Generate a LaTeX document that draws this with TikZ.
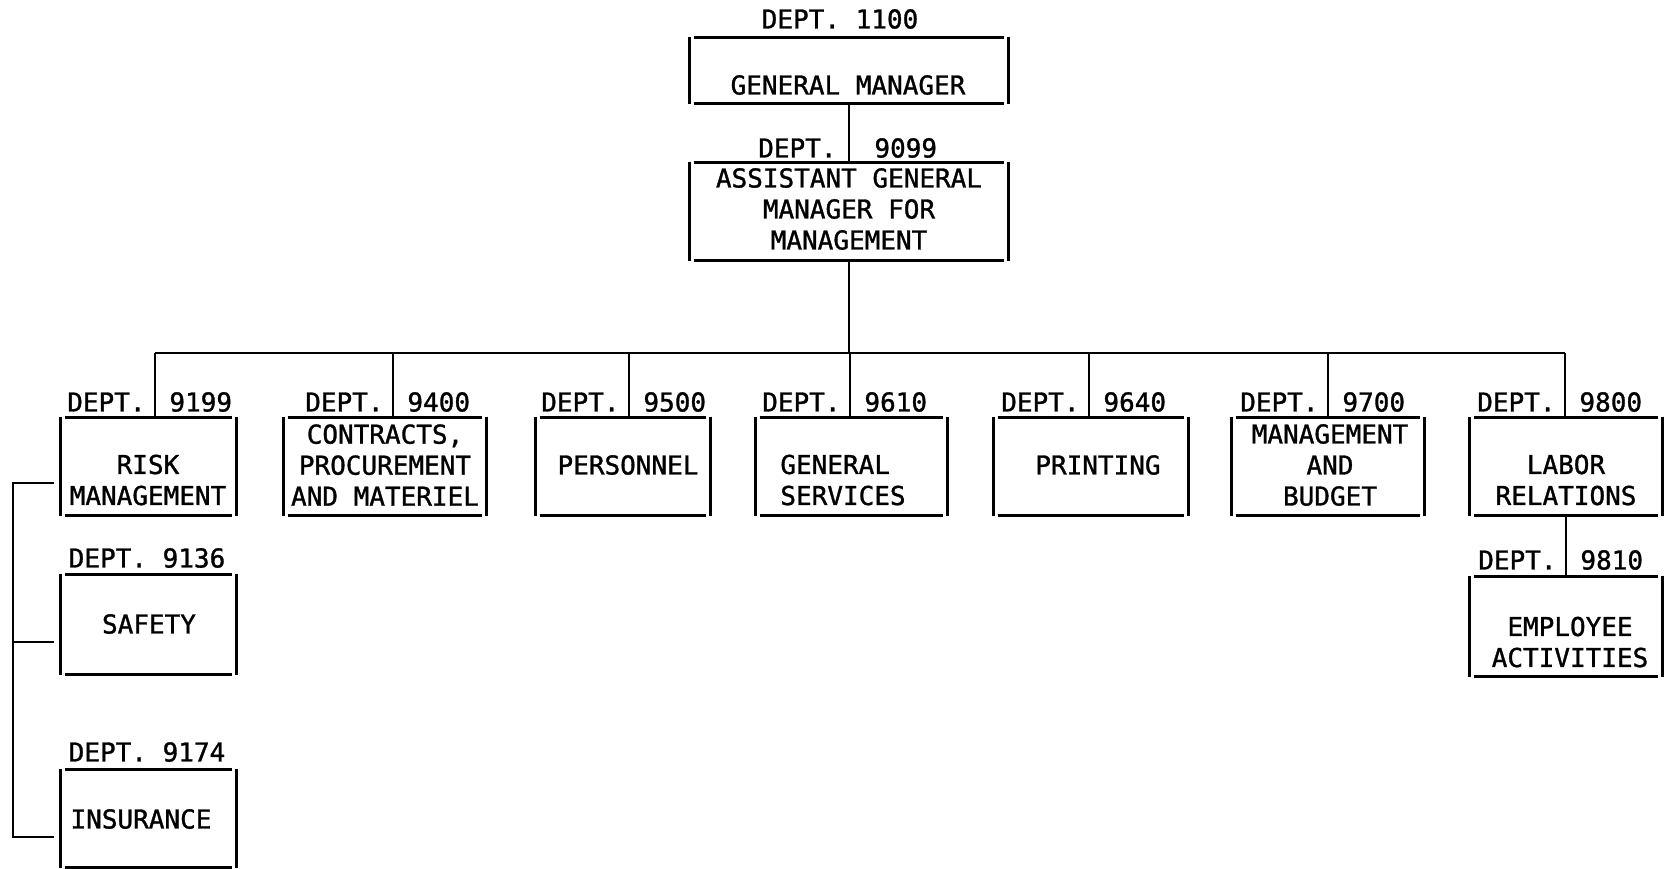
\documentclass[tikz,border=0pt]{standalone}
\usepackage{fontspec}
\newfontfamily\tw[FakeBold=1.2]{DejaVu Sans Mono}
\newcommand\tybox[1]{%
  \draw ([xshift=4pt]#1.north west) -- ([xshift=-4pt]#1.north east)
        ([xshift=4pt]#1.south west) -- ([xshift=-4pt]#1.south east);
  \draw ([yshift=1pt]#1.north west) -- ([yshift=-1pt]#1.south west)
        ([yshift=1pt]#1.north east) -- ([yshift=-1pt]#1.south east);}
\newcommand\rowdept[5]{%
  \node[boxn, minimum width=#4pt, minimum height=95pt] (#1) at (#3,466.5) {};
  \tybox{#1}
  \coordinate (#1top) at (#2,353);
  \draw (#1top) -- (#1top |- #1.north);
  \node[lbl, anchor=east] (#1d) at (#2-8,402) {DEPT.};
  \node[lbl, anchor=west] (#1n) at (#2+13,402) {#5};}
\begin{document}
\begin{tikzpicture}[x=1pt,y=-1pt, line width=2.9pt, line cap=square,
  boxn/.style={rectangle, inner sep=0pt, draw=none},
  txt/.style={inner sep=0pt, align=center, font=\tw\fontsize{26}{31}\selectfont},
  lbl/.style={inner sep=0pt, font=\tw\fontsize{26}{31}\selectfont}]
\useasboundingbox (0,0) rectangle (1664,868);
% top
\node[lbl] (d1100) at (840,19) {DEPT. 1100};
\node[boxn, minimum width=316pt, minimum height=63pt] (gm) at (849,70.5) {};
\tybox{gm}
\node[txt] (gmt) at (848,85) {GENERAL MANAGER};
\node[lbl, anchor=east] (d9099a) at (838,148) {DEPT.};
\node[lbl, anchor=west] (d9099b) at (873,148) {9099};
\node[boxn, minimum width=316pt, minimum height=95pt] (agm) at (849,211.5) {};
\tybox{agm}
\node[txt] (agmt) at (849,209) {ASSISTANT GENERAL\\MANAGER FOR\\MANAGEMENT};
\draw (gm.south) -- (agm.north);
% bus
\coordinate (busc) at (849,353);
\coordinate (busl) at (155,353);
\coordinate (busr) at (1565,353);
\draw (agm.south) -- (busc);
\draw (busl) -- (busr);
% row
\rowdept{risk}{155}{148.5}{173}{9199}
\rowdept{contr}{393}{385}{200}{9400}
\rowdept{pers}{629}{623}{172}{9500}
\rowdept{gs}{850}{851.5}{189}{9610}
\rowdept{print}{1089}{1091}{192}{9640}
\rowdept{mb}{1328}{1328}{190}{9700}
\rowdept{labor}{1565}{1566}{190}{9800}
\node[txt] (riskt) at (148,480) {RISK\\MANAGEMENT};
\node[txt] (contrt) at (385,465) {CONTRACTS,\\PROCUREMENT\\AND MATERIEL};
\node[txt] (perst) at (628,465) {PERSONNEL};
\node[txt, align=left] (gst) at (843,480) {GENERAL\\SERVICES};
\node[txt] (printt) at (1098,465) {PRINTING};
\node[txt] (mbt) at (1330,465) {MANAGEMENT\\AND\\BUDGET};
\node[txt] (labort) at (1566,480) {LABOR\\RELATIONS};
% risk sub-departments
\node[lbl] (d9136) at (147,558) {DEPT. 9136};
\node[boxn, minimum width=173pt, minimum height=97pt] (safety) at (148.5,624.5) {};
\tybox{safety}
\node[txt] (safetyt) at (149,624) {SAFETY};
\node[lbl] (d9174) at (147,752) {DEPT. 9174};
\node[boxn, minimum width=173pt, minimum height=95pt] (ins) at (148.5,818.5) {};
\tybox{ins}
\node[txt] (inst) at (141,819) {INSURANCE};
\coordinate (bt) at (13,483);
\coordinate (bb) at (13,837);
\draw ([xshift=-7pt,yshift=-16.5pt]risk.west) -- (bt) -- (bb) -- ([xshift=-7pt,yshift=-18.5pt]ins.west);
\draw ([xshift=-7pt,yshift=-17.5pt]safety.west) -- (bt |- {0,642});
% labor sub-department
\node[boxn, minimum width=190pt, minimum height=97pt] (emp) at (1566,626.5) {};
\tybox{emp}
\draw (labor.south) -- (emp.north);
\node[lbl, anchor=east] (d9810a) at (1558,560) {DEPT.};
\node[lbl, anchor=west] (d9810b) at (1579,560) {9810};
\node[txt] (empt) at (1570,642) {EMPLOYEE\\ACTIVITIES};
\end{tikzpicture}
\end{document}
